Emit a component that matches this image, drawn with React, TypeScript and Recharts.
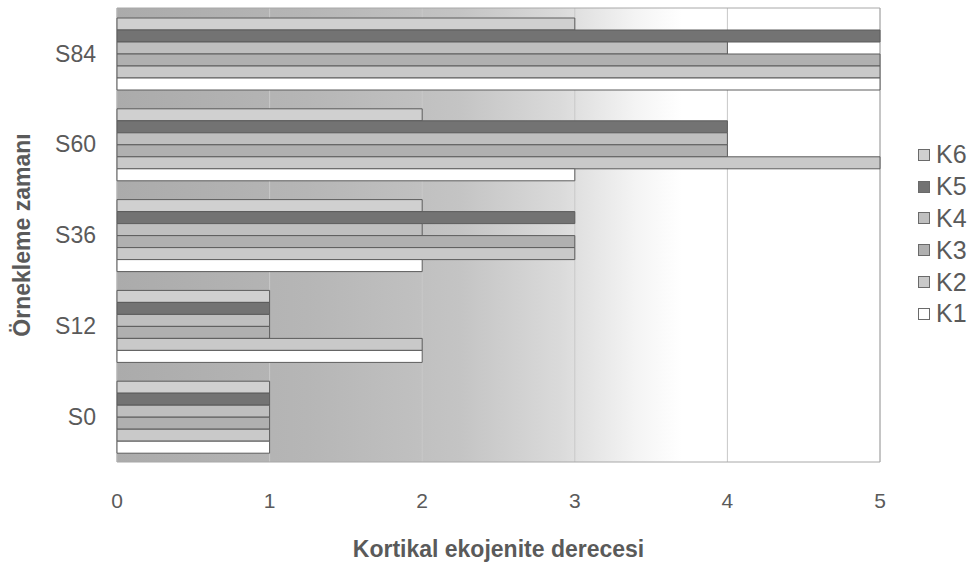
import React from 'react';
import {
  BarChart,
  Bar,
  XAxis,
  YAxis,
  CartesianGrid,
  ReferenceArea,
} from 'recharts';

// sampling times, top to bottom as drawn
const categories = ['S84', 'S60', 'S36', 'S12', 'S0'];

// cortical echogenicity grade per case
const k6 = [3, 2, 2, 1, 1];
const k5 = [5, 4, 3, 1, 1];
const k4 = [4, 4, 2, 1, 1];
const k3 = [5, 4, 3, 1, 1];
const k2 = [5, 5, 3, 2, 1];
const k1 = [5, 3, 2, 2, 1];

const xTicks = [0, 1, 2, 3, 4, 5];

const series = [
  { key: 'K6', values: k6, color: '#d0d0d0' },
  { key: 'K5', values: k5, color: '#737373' },
  { key: 'K4', values: k4, color: '#bfbfbf' },
  { key: 'K3', values: k3, color: '#b0b0b0' },
  { key: 'K2', values: k2, color: '#c9c9c9' },
  { key: 'K1', values: k1, color: '#ffffff' },
];

const data = categories.map((name, i) => {
  const row: Record<string, string | number> = { name };
  series.forEach(s => {
    row[s.key] = s.values[i];
  });
  return row;
});

const FONT = '"Liberation Sans", Arial, sans-serif';
const TEXT = '#5a5a5a';

export default function App() {
  return (
    <div style={{ position: 'absolute', left: 0, top: 0, width: 972, height: 564, background: '#fff', fontFamily: FONT, overflow: 'hidden' }}>
      <BarChart
        width={972}
        height={564}
        data={data}
        layout="vertical"
        margin={{ top: 8, right: 92, bottom: 0, left: 0 }}
        barCategoryGap={10}
        barGap={0}
      >
        <defs>
          <linearGradient id="plotBg" x1="0" y1="0" x2="1" y2="0">
            <stop offset="0%" stopColor="#ababab" />
            <stop offset="25%" stopColor="#b6b6b6" />
            <stop offset="45%" stopColor="#c4c4c4" />
            <stop offset="58%" stopColor="#dadada" />
            <stop offset="68%" stopColor="#f4f4f4" />
            <stop offset="74%" stopColor="#ffffff" />
            <stop offset="100%" stopColor="#ffffff" />
          </linearGradient>
        </defs>
        <CartesianGrid horizontal={false} stroke="#c8c8c8" fill="url(#plotBg)" fillOpacity={1} />
        <XAxis
          type="number"
          domain={[0, 5]}
          ticks={xTicks}
          axisLine={false}
          tickLine={false}
          tickMargin={25}
          height={102}
          tick={{ fill: TEXT, fontSize: 21, fontFamily: FONT }}
          label={{
            value: 'Kortikal ekojenite derecesi',
            position: 'insideBottom',
            offset: 7,
            fill: TEXT,
            fontSize: 23,
            fontWeight: 'bold',
            fontFamily: FONT,
          }}
        />
        <YAxis
          type="category"
          dataKey="name"
          width={117}
          axisLine={false}
          tickLine={false}
          tickMargin={15}
          tick={{ fill: TEXT, fontSize: 23, fontFamily: FONT }}
          label={{
            value: 'Örnekleme zamanı',
            angle: -90,
            position: 'insideLeft',
            offset: 22,
            style: { textAnchor: 'middle' },
            fill: TEXT,
            fontSize: 23,
            fontWeight: 'bold',
            fontFamily: FONT,
          }}
        />
        {series.map(s => (
          <Bar
            key={s.key}
            dataKey={s.key}
            fill={s.color}
            stroke="#5c5c5c"
            strokeWidth={1}
            isAnimationActive={false}
          />
        ))}
        <ReferenceArea x1={0} x2={5} fill="none" stroke="#a8a8a8" strokeWidth={1} />
      </BarChart>
      <div style={{ position: 'absolute', left: 918, top: 139 }}>
        {series.map(s => (
          <div key={s.key} style={{ display: 'flex', alignItems: 'center', height: 31.8, whiteSpace: 'nowrap' }}>
            <span
              style={{
                display: 'inline-block',
                width: 10,
                height: 10,
                background: s.color,
                border: '1px solid #6a6a6a',
                marginRight: 6,
              }}
            />
            <span style={{ color: TEXT, fontSize: 25 }}>{s.key}</span>
          </div>
        ))}
      </div>
    </div>
  );
}
